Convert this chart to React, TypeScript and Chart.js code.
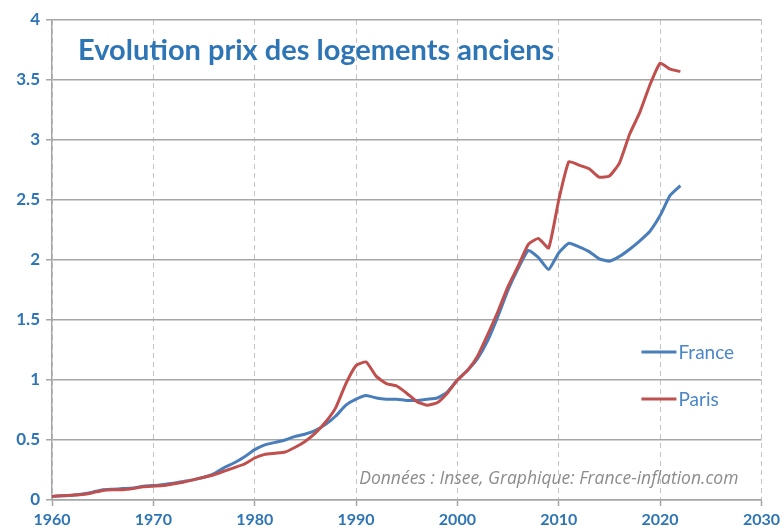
import React, { useEffect, useRef } from "react";
import { Chart, registerables } from "chart.js";

Chart.register(...registerables);

const TITLE = "Evolution prix des logements anciens";
const SOURCE = "Données : Insee, Graphique: France-inflation.com";

const years = [
  1960, 1961, 1962, 1963, 1964, 1965, 1966, 1967, 1968, 1969,
  1970, 1971, 1972, 1973, 1974, 1975, 1976, 1977, 1978, 1979,
  1980, 1981, 1982, 1983, 1984, 1985, 1986, 1987, 1988, 1989,
  1990, 1991, 1992, 1993, 1994, 1995, 1996, 1997, 1998, 1999,
  2000, 2001, 2002, 2003, 2004, 2005, 2006, 2007, 2008, 2009,
  2010, 2011, 2012, 2013, 2014, 2015, 2016, 2017, 2018, 2019,
  2020, 2021, 2022,
];

const france = [
  0.03, 0.035, 0.04, 0.05, 0.065, 0.085, 0.09, 0.095, 0.1, 0.115,
  0.12, 0.13, 0.14, 0.155, 0.17, 0.19, 0.22, 0.27, 0.31, 0.36,
  0.42, 0.46, 0.48, 0.5, 0.53, 0.55, 0.58, 0.63, 0.7, 0.79,
  0.84, 0.87, 0.85, 0.84, 0.84, 0.83, 0.83, 0.84, 0.85, 0.9,
  1.0, 1.08, 1.18, 1.33, 1.53, 1.75, 1.93, 2.08, 2.02, 1.92,
  2.06, 2.14, 2.11, 2.07, 2.01, 1.99, 2.03, 2.09, 2.16, 2.24,
  2.37, 2.54, 2.62,
];

const paris = [
  0.03, 0.035, 0.04, 0.045, 0.06, 0.08, 0.085, 0.085, 0.095, 0.11,
  0.115, 0.12, 0.135, 0.15, 0.17, 0.19, 0.21, 0.24, 0.27, 0.3,
  0.35, 0.38, 0.39, 0.4, 0.44, 0.49, 0.56, 0.65, 0.77, 0.97,
  1.12, 1.15, 1.03, 0.97, 0.95, 0.89, 0.82, 0.79, 0.81, 0.89,
  1.0, 1.08, 1.2, 1.38, 1.57, 1.78, 1.95, 2.13, 2.18, 2.1,
  2.5, 2.82, 2.79, 2.76, 2.69, 2.7, 2.81, 3.05, 3.23, 3.46,
  3.64, 3.59, 3.57,
];

const xTicks = [1960, 1970, 1980, 1990, 2000, 2010, 2020, 2030];
const yTicks = [0, 0.5, 1, 1.5, 2, 2.5, 3, 3.5, 4];

const FONT = "Lato, 'Open Sans', sans-serif";
const TICK_COLOR = "#2E75B6";
const TITLE_COLOR = "#2E75B6";
const LEGEND_TEXT = "#4A86C8";
const FRANCE_COLOR = "#4A7EBB";
const PARIS_COLOR = "#C0504D";
const AXIS_GREY = "#A6A6A6";

const annotPlugin = {
  id: "annot",
  afterDraw(chart: any) {
    const { ctx, chartArea } = chart;
    ctx.save();
    // title
    ctx.font = `bold 29px ${FONT}`;
    ctx.fillStyle = TITLE_COLOR;
    ctx.textAlign = "left";
    ctx.textBaseline = "alphabetic";
    ctx.fillText(TITLE, chartArea.left + 26, chartArea.top + 40);
    // source
    ctx.font = `italic 17.5px 'Open Sans', Lato, sans-serif`;
    ctx.fillStyle = "#8C8C8C";
    ctx.textAlign = "right";
    ctx.fillText(SOURCE, chartArea.right - 23, chartArea.bottom - 16);
    // legend
    chart.data.datasets.forEach((ds: any, i: number) => {
      const y = chartArea.top + 332 + i * 47;
      ctx.strokeStyle = ds.borderColor;
      ctx.lineWidth = 3;
      ctx.beginPath();
      ctx.moveTo(chartArea.right - 120, y);
      ctx.lineTo(chartArea.right - 85, y);
      ctx.stroke();
      ctx.font = `19px ${FONT}`;
      ctx.fillStyle = LEGEND_TEXT;
      ctx.textAlign = "left";
      ctx.textBaseline = "middle";
      ctx.fillText(ds.label, chartArea.right - 83, y + 1);
    });
    ctx.restore();
  },
};

export default function App() {
  const ref = useRef<HTMLCanvasElement>(null);
  useEffect(() => {
    if (!ref.current) return;
    const chart = new Chart(ref.current, {
      type: "line",
      data: {
        datasets: [
          {
            label: "France",
            data: years.map((y, i) => ({ x: y, y: france[i] })),
            borderColor: FRANCE_COLOR,
            backgroundColor: FRANCE_COLOR,
            borderWidth: 3,
            pointRadius: 0,
            tension: 0.15,
            order: 1,
          },
          {
            label: "Paris",
            data: years.map((y, i) => ({ x: y, y: paris[i] })),
            borderColor: PARIS_COLOR,
            backgroundColor: PARIS_COLOR,
            borderWidth: 3,
            pointRadius: 0,
            tension: 0.15,
            order: 0,
          },
        ],
      },
      options: {
        animation: false,
        responsive: false,
        layout: { padding: { top: 20, right: 21, left: 0, bottom: 0 } },
        plugins: {
          legend: { display: false },
          tooltip: { enabled: false },
          title: { display: false },
        },
        scales: {
          x: {
            type: "linear",
            min: 1960,
            max: 2030,
            afterBuildTicks: (s: any) => {
              s.ticks = xTicks.map((v) => ({ value: v }));
            },
            afterFit: (s: any) => {
              s.height = 32;
            },
            ticks: {
              autoSkip: false,
              maxRotation: 0,
              color: TICK_COLOR,
              font: { family: FONT, size: 16, weight: "bold" },
              padding: 4,
              callback: (v: any) => String(v),
            },
            grid: {
              color: "#C4C4C4",
              lineWidth: 1,
              tickLength: 6,
              tickColor: AXIS_GREY,
              tickWidth: 1.5,
            },
            border: { display: true, color: AXIS_GREY, width: 1.5, dash: [5, 4] },
          },
          y: {
            type: "linear",
            min: 0,
            max: 4,
            afterBuildTicks: (s: any) => {
              s.ticks = yTicks.map((v) => ({ value: v }));
            },
            afterFit: (s: any) => {
              s.width = 52;
            },
            ticks: {
              color: TICK_COLOR,
              font: { family: FONT, size: 17, weight: "bold" },
              padding: 6,
              callback: (v: any) => String(v),
            },
            grid: {
              color: AXIS_GREY,
              lineWidth: 1.5,
              tickLength: 6,
              tickColor: AXIS_GREY,
              tickWidth: 1.5,
            },
            border: { display: true, color: AXIS_GREY, width: 1.5 },
          },
        },
      },
      plugins: [annotPlugin],
    } as any);
    return () => chart.destroy();
  }, []);
  return (
    <div style={{ position: "absolute", left: 0, top: 0, width: 784, height: 532, background: "#fff" }}>
      <canvas ref={ref} width={784} height={532} style={{ display: "block" }} />
    </div>
  );
}
